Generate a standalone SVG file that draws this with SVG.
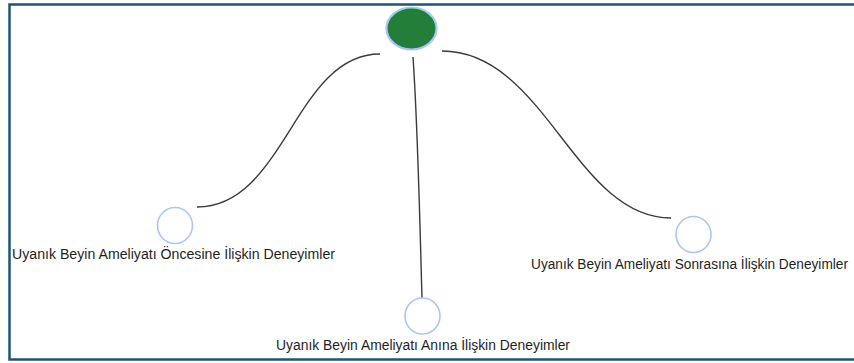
<svg xmlns="http://www.w3.org/2000/svg" width="854" height="363" viewBox="0 0 854 363">
<style>
.frame{fill:none;stroke:#1f5570;stroke-width:2.5}
.conn{fill:none;stroke:#3a3a3a;stroke-width:1.4}
.leaf{fill:#ffffff;stroke:#a9c6f5;stroke-width:1.6}
.root{fill:#237e3a;stroke:#a6c8f7;stroke-width:2.2}
.lbl{font-family:"Liberation Sans",Arial,sans-serif;font-size:14px;fill:#1e1e1e}
</style>
<rect x="0" y="0" width="854" height="363" fill="#ffffff"/>
<rect class="frame" x="9.5" y="4.5" width="860" height="355"/>
<g id="connectors">
<path class="conn" d="M197,207 C285,207 295,54 380,54"/>
<path class="conn" d="M413,57 C418,130 420,230 422,298"/>
<path class="conn" d="M442,51 C545,51 575,218 671,218"/>
</g>
<g id="root"><ellipse class="root" cx="411.5" cy="28.5" rx="25" ry="21"/></g>
<g id="before">
<ellipse class="leaf" cx="175" cy="225.5" rx="17.5" ry="18"/>
<text class="lbl" x="12" y="259" textLength="323" lengthAdjust="spacingAndGlyphs">Uyanık Beyin Ameliyatı Öncesine İlişkin Deneyimler</text>
</g>
<g id="after">
<ellipse class="leaf" cx="693.5" cy="234.5" rx="17.5" ry="18"/>
<text class="lbl" x="531" y="269" textLength="317" lengthAdjust="spacingAndGlyphs">Uyanık Beyin Ameliyatı Sonrasına İlişkin Deneyimler</text>
</g>
<g id="during">
<ellipse class="leaf" cx="422.5" cy="316" rx="17.5" ry="18"/>
<text class="lbl" x="276" y="350" textLength="294" lengthAdjust="spacingAndGlyphs">Uyanık Beyin Ameliyatı Anına İlişkin Deneyimler</text>
</g>
</svg>
